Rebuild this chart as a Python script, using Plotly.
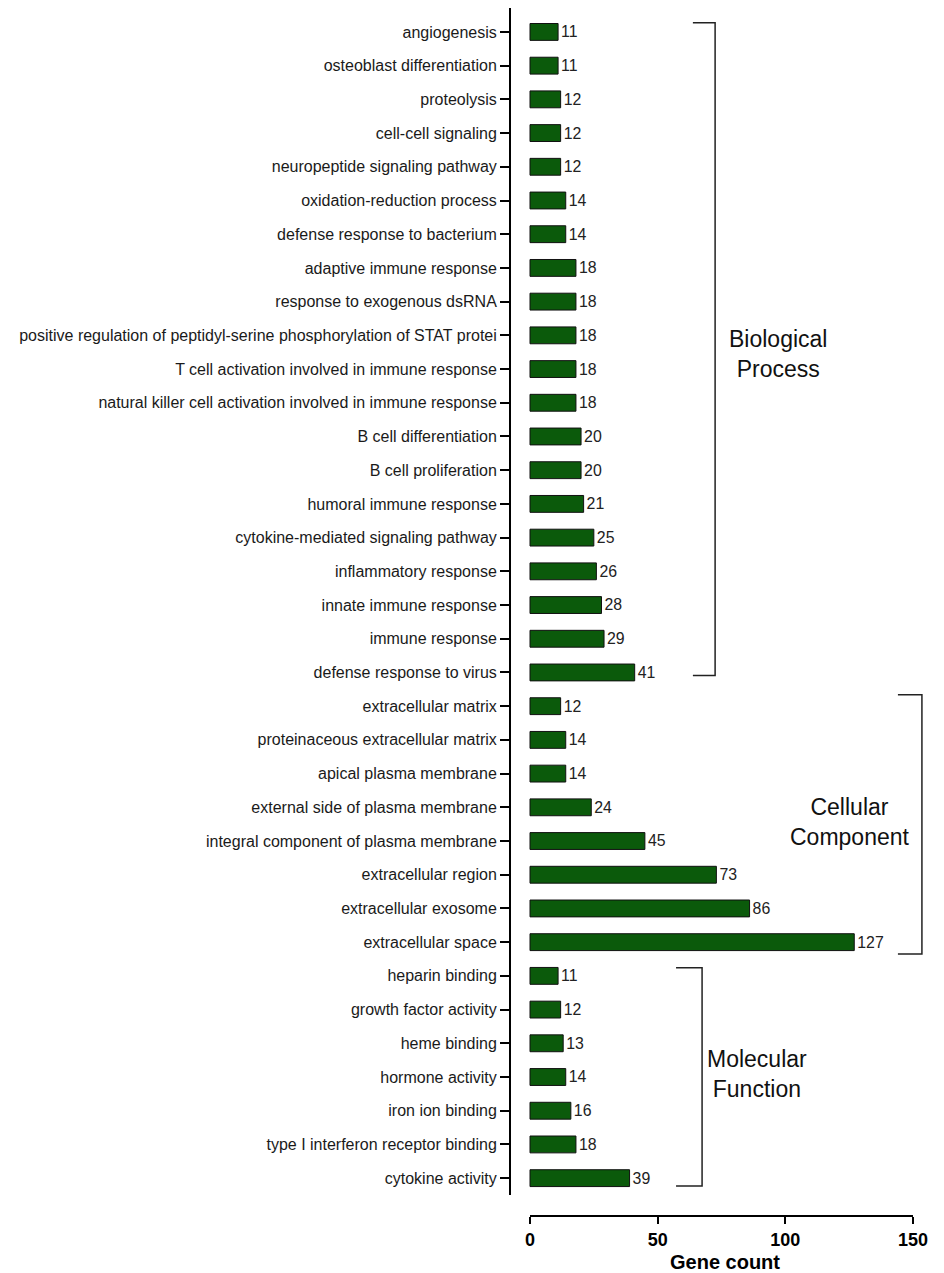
import plotly.graph_objects as go

categories = [
    "angiogenesis", "osteoblast differentiation", "proteolysis", "cell-cell signaling",
    "neuropeptide signaling pathway", "oxidation-reduction process", "defense response to bacterium",
    "adaptive immune response", "response to exogenous dsRNA",
    "positive regulation of peptidyl-serine phosphorylation of STAT protei",
    "T cell activation involved in immune response",
    "natural killer cell activation involved in immune response",
    "B cell differentiation", "B cell proliferation", "humoral immune response",
    "cytokine-mediated signaling pathway", "inflammatory response", "innate immune response",
    "immune response", "defense response to virus",
    "extracellular matrix", "proteinaceous extracellular matrix", "apical plasma membrane",
    "external side of plasma membrane", "integral component of plasma membrane",
    "extracellular region", "extracellular exosome", "extracellular space",
    "heparin binding", "growth factor activity", "heme binding", "hormone activity",
    "iron ion binding", "type I interferon receptor binding", "cytokine activity",
]
gene_counts = [11, 11, 12, 12, 12, 14, 14, 18, 18, 18, 18, 18, 20, 20, 21, 25, 26, 28, 29, 41,
               12, 14, 14, 24, 45, 73, 86, 127,
               11, 12, 13, 14, 16, 18, 39]
x_ticks = [0, 50, 100, 150]
x_title = "Gene count"
groups = ["Biological<br>Process", "Cellular<br>Component", "Molecular<br>Function"]

FONT = "Arial, Liberation Sans, sans-serif"

fig = go.Figure()
fig.add_trace(go.Bar(
    y=categories, x=gene_counts, orientation="h", width=0.5,
    marker=dict(color="#0b5a0b", line=dict(color="#111111", width=1)),
    text=[str(v) for v in gene_counts], textposition="outside",
    textfont=dict(family=FONT, size=16, color="#222222"),
    cliponaxis=False, hoverinfo="x+y",
))

W, H = 936, 1265
axis_y = 1208
paper_h = axis_y
ydom0 = 21 / paper_h

fig.update_layout(
    width=W, height=H,
    margin=dict(l=503, r=5, t=0, b=H - axis_y, pad=0),
    plot_bgcolor="white", paper_bgcolor="white",
    showlegend=False,
    font=dict(family=FONT, color="#1a1a1a"),
    bargap=0.5,
)
fig.update_yaxes(
    type="category", categoryorder="array", categoryarray=categories,
    range=[34.5, -0.71], domain=[ydom0, 1],
    showline=True, linecolor="black", linewidth=2,
    ticks="outside", ticklen=9, tickwidth=2, tickcolor="black",
    tickfont=dict(family=FONT, size=16, color="#1a1a1a"),
    showgrid=False, zeroline=False,
)
fig.update_xaxes(
    range=[-7.44, 160.19], anchor="free", position=0,
    showline=False, showgrid=False, zeroline=False,
    tickvals=x_ticks, ticktext=[str(t) for t in x_ticks],
    ticks="outside", ticklen=7, tickwidth=2, tickcolor="black",
    tickfont=dict(family=FONT, size=18, color="black", weight="bold"),
    title=dict(text="<b>" + x_title + "</b>", font=dict(family=FONT, size=20, color="black"), standoff=6),
)

# x axis line only from 0 to 150
fig.add_shape(type="line", xref="x", yref="paper", x0=x_ticks[0], x1=x_ticks[-1], y0=0, y1=0,
              line=dict(color="black", width=2))

# brackets: (x_left, x_right, y_top, y_bottom) in data units
brackets = [
    (63.8, 72.5, -0.27, 19.09),
    (144.1, 153.5, 19.66, 27.35),
    (57.2, 67.4, 27.76, 34.23),
]
label_pos = [(97.2, 9.54), (125.5, 23.43), (89.0, 30.91)]
for (xl, xr, yt, yb), (lx, ly), txt in zip(brackets, label_pos, groups):
    fig.add_shape(type="path", xref="x", yref="y",
                  path=f"M {xl} {yt} L {xr} {yt} L {xr} {yb} L {xl} {yb}",
                  line=dict(color="#222222", width=1.5))
    fig.add_annotation(x=lx, y=ly, xref="x", yref="y", text=txt, showarrow=False,
                       font=dict(family=FONT, size=23, color="#111111"), align="center")

fig.write_html("out.html")
